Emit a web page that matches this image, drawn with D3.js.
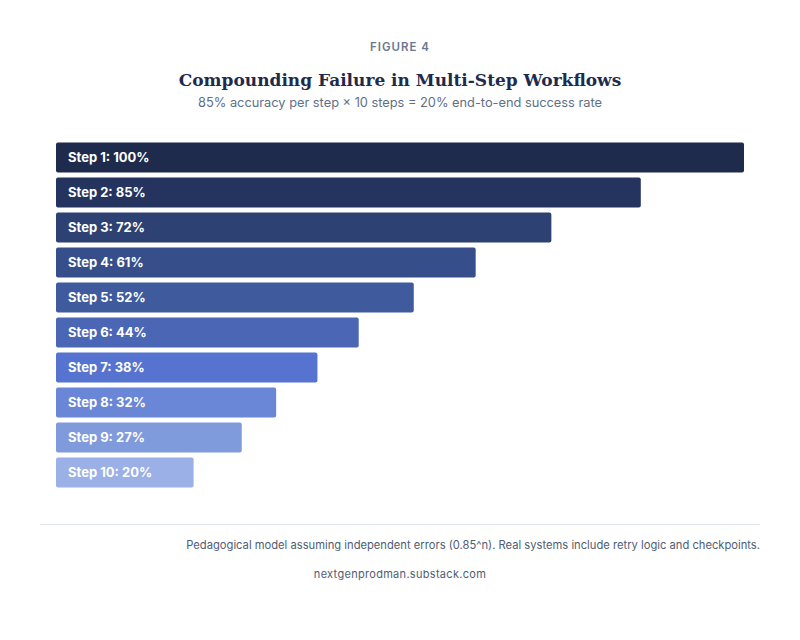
<!DOCTYPE html>
<html>
<head>
<meta charset="utf-8">
<script src="https://cdn.jsdelivr.net/npm/d3@7"></script>
<style>
  body { margin: 0; background: #fff; }
  svg { display: block; }
</style>
</head>
<body>
<svg class="chart"></svg>
<script>
var width = 800,
    height = 640;

// data
var steps = ["Step 1", "Step 2", "Step 3", "Step 4", "Step 5", "Step 6", "Step 7", "Step 8", "Step 9", "Step 10"];
var values = [100, 85, 72, 61, 52, 44, 38, 32, 27, 20];
var colors = ["#1e2b4d", "#24345f", "#2d4273", "#364f8a", "#3f5a9d", "#4a66b5", "#5673cf", "#6a86d6", "#809bdb", "#9ab0e6"];

var data = steps.map(function(s, i) { return {step: s, value: values[i], color: colors[i]}; });

var svg = d3.select(".chart")
    .attr("width", width)
    .attr("height", height);

var x = d3.scaleLinear().domain([0, 100]).range([56, 744]);
var y = d3.scaleBand().domain(steps).range([140, 490]).paddingInner(0.143).paddingOuter(0.07);

// header
svg.append("text")
    .attr("x", 400).attr("y", 51)
    .attr("text-anchor", "middle")
    .attr("font-family", "Inter, sans-serif")
    .attr("font-weight", 600)
    .attr("font-size", 11.5)
    .attr("letter-spacing", "1px")
    .attr("fill", "#687890")
    .text("FIGURE 4");

svg.append("text")
    .attr("x", 400).attr("y", 86)
    .attr("text-anchor", "middle")
    .attr("font-family", "'DejaVu Serif', serif")
    .attr("font-weight", "bold")
    .attr("font-size", 17)
    .attr("fill", "#1e2b4d")
    .text("Compounding Failure in Multi-Step Workflows");

svg.append("text")
    .attr("x", 400).attr("y", 107)
    .attr("text-anchor", "middle")
    .attr("font-family", "Inter, sans-serif")
    .attr("font-size", 12.8)
    .attr("fill", "#5f6f88")
    .text("85% accuracy per step \u00d7 10 steps = 20% end-to-end success rate");

// bars
var bar = svg.selectAll("g.bar")
    .data(data)
  .enter().append("g")
    .attr("class", "bar")
    .attr("transform", function(d) { return "translate(0," + y(d.step) + ")"; });

bar.append("rect")
    .attr("x", x(0))
    .attr("width", function(d) { return x(d.value) - x(0); })
    .attr("height", y.bandwidth())
    .attr("rx", 2)
    .attr("fill", function(d) { return d.color; });

bar.append("text")
    .attr("x", x(0) + 12)
    .attr("y", y.bandwidth() / 2)
    .attr("dy", ".35em")
    .attr("font-family", "Inter, sans-serif")
    .attr("font-weight", 700)
    .attr("font-size", 13)
    .attr("fill", "#fff")
    .text(function(d) { return d.step + ": " + d.value + "%"; });

// footer
svg.append("line")
    .attr("x1", 40).attr("x2", 760)
    .attr("y1", 524.5).attr("y2", 524.5)
    .attr("stroke", "#e3e8ef");

svg.append("text")
    .attr("x", 760).attr("y", 549)
    .attr("text-anchor", "end")
    .attr("font-family", "Inter, sans-serif")
    .attr("font-size", 11.2)
    .attr("fill", "#4f5d73")
    .text("Pedagogical model assuming independent errors (0.85^n). Real systems include retry logic and checkpoints.");

svg.append("text")
    .attr("x", 400).attr("y", 578)
    .attr("text-anchor", "middle")
    .attr("font-family", "Inter, sans-serif")
    .attr("font-size", 11)
    .attr("letter-spacing", "0.3px")
    .attr("fill", "#4f5d73")
    .text("nextgenprodman.substack.com");
</script>
</body>
</html>
